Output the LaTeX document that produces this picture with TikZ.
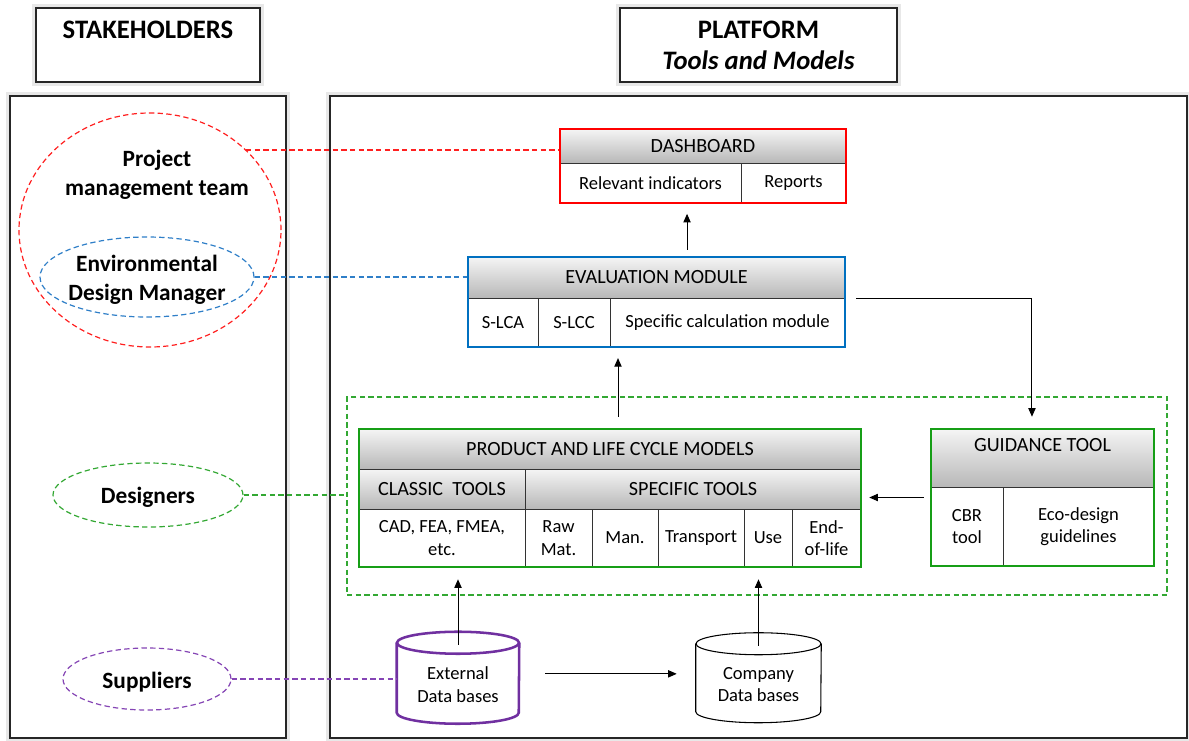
\documentclass[tikz,border=0pt]{standalone}
\usepackage{fontspec}
\setmainfont{Carlito}
\usetikzlibrary{fit,calc,arrows.meta,shapes.geometric}
\definecolor{pmred}{HTML}{FF2020}
\definecolor{frred}{HTML}{FF0000}
\definecolor{edmblue}{HTML}{2F7FC8}
\definecolor{frblue}{HTML}{0070C0}
\definecolor{grpgreen}{HTML}{33A833}
\definecolor{frgreen}{HTML}{169E16}
\definecolor{suppurple}{HTML}{8545B5}
\definecolor{frpurple}{HTML}{7030A0}
\begin{document}
\begin{tikzpicture}[x=0.75pt,y=-0.75pt,
  every node/.style={inner sep=0pt},
  txt/.style={font=\fontsize{13.9}{16.9}\selectfont, align=center},
  htxt/.style={font=\fontsize{15.1}{16.9}\selectfont, align=center},
  t/.style={label={[txt]center:{#1}}},
  th/.style={label={[htxt]center:{#1}}},
  cell/.style={draw=black!80, line width=0.75pt, fill=white},
  head/.style={cell, top color=black!4, bottom color=black!28},
  glow/.style={preaction={draw=black!9, line width=6pt}},
  big/.style={draw=black!85, line width=0.9pt, fill=white, glow},
  titletxt/.style={font=\fontsize{20}{23.25}\selectfont\bfseries, align=center},
  who/.style={font=\fontsize{17.5}{21.75}\selectfont\bfseries, align=center, yshift=-2pt},
  arr/.style={-{Triangle[length=6.5pt,width=5.5pt]}, line width=0.75pt},
  dsh/.style={dash pattern=on 4pt off 2.5pt, line width=0.9pt},
  oval/.style={ellipse, dsh},
]
\useasboundingbox (0,0) rectangle (1189,740);

% title boxes and panels
\node[big, fit={(36,8) (260,82)}, label={[titletxt]center:{STAKEHOLDERS\\\mbox{}}}] (stkh) {};
\node[big, fit={(620,8) (897,82)}, label={[titletxt]center:{PLATFORM\\\textit{Tools and Models}}}] (plth) {};
\node[big, fit={(10,96) (286,738)}] (stk) {};
\node[big, fit={(330,96) (1187,738)}] (plat) {};

% green dashed group
\node[draw=grpgreen, dsh, fit={(347,397) (1167,595)}] (grp) {};

% stakeholders
\node[oval, draw=pmred, minimum width=196.5pt, minimum height=175.5pt] (pm) at (150,230) {};
\node[who] (pmt) at (157,172) {Project\\management team};
\node[oval, draw=edmblue, minimum width=160.5pt, minimum height=60pt,
      label={[who]center:{Environmental\\Design Manager}}] (edm) at (147,277) {};
\node[oval, draw=grpgreen, minimum width=142.5pt, minimum height=48pt,
      label={[who]center:Designers}] (des) at (148,495) {};
\node[oval, draw=suppurple, minimum width=126pt, minimum height=46.5pt,
      label={[who]center:Suppliers}] (sup) at (147,679) {};

% dashboard
\node[head, fit={(560,129) (846,163)}, th=DASHBOARD] (dashh) {};
\node[cell, fit={(560,163) (741,203)}, t=Relevant indicators] (dash1) {};
\node[cell, fit={(741,163) (846,203)}, t=Reports] (dash2) {};
\node[draw=frred, line width=1.6pt, fit={(560,129) (846,203)}] (dashb) {};

% evaluation module
\node[head, fit={(468,257) (845,298)}, th=EVALUATION MODULE] (evalh) {};
\node[cell, fit={(468,298) (538,347)}, t=S-LCA] (eval1) {};
\node[cell, fit={(538,298) (610,347)}, t=S-LCC] (eval2) {};
\node[cell, fit={(610,298) (845,347)}, t=Specific calculation module] (eval3) {};
\node[draw=frblue, line width=1.6pt, fit={(468,257) (845,347)}] (eval) {};

% product and life cycle models
\node[head, fit={(359,429) (861,469)}, th=PRODUCT AND LIFE CYCLE MODELS] (prodh) {};
\node[head, fit={(359,469) (525,509)}, th={CLASSIC\ \ TOOLS}] (prodc) {};
\node[head, fit={(525,469) (861,509)}, th=SPECIFIC TOOLS] (prods) {};
\node[cell, fit={(359,509) (525,567)}, t={CAD, FEA, FMEA,\\etc.}] (p1) {};
\node[cell, fit={(525,509) (592,567)}, t={Raw\\Mat.}] (p2) {};
\node[cell, fit={(592,509) (658,567)}, t=Man.] (p3) {};
\node[cell, fit={(658,509) (744,567)}, t=Transport] (p4) {};
\node[cell, fit={(744,509) (792,567)}, t=Use] (p5) {};
\node[cell, fit={(792,509) (861,567)}, t={End-\\of-life}] (p6) {};
\node[draw=frgreen, line width=1.9pt, fit={(359,429) (861,567)}] (prod) {};

% guidance tool
\node[head, fit={(931,429) (1154,487)}, th={GUIDANCE TOOL\\[3pt]\mbox{}}] (guidh) {};
\node[cell, fit={(931,487) (1003,566)}, t={CBR\\tool}] (g1) {};
\node[cell, fit={(1003,487) (1154,566)}, t={Eco-design\\guidelines}] (g2) {};
\node[draw=frgreen, line width=1.9pt, fit={(931,429) (1154,566)}] (guid) {};

% data bases
\node[fit={(397,643) (519,726)}, t={External\\Data bases}] (ext) {};
\draw[frpurple, line width=1.9pt] (ext.north west) -- ++(0,70)
  arc[start angle=180, end angle=0, x radius=61, y radius=11] -- (ext.north east);
\draw[frpurple, line width=1.9pt] (ext.north) ellipse[x radius=61, y radius=11];
\node[fit={(696,644) (821,725)}, t={Company\\Data bases}] (comp) {};
\draw[black, line width=0.8pt] (comp.north west) -- ++(0,68)
  arc[start angle=180, end angle=0, x radius=62.5, y radius=11] -- (comp.north east);
\draw[black, line width=0.8pt] (comp.north) ellipse[x radius=62.5, y radius=11];

% dashed stakeholder links
\draw[dsh, draw=pmred, line width=1.1pt] ([yshift=-0.4pt]pm.40) -- ([yshift=-0.4pt]pm.40 -| dashb.west);
\draw[dsh, draw=edmblue] (edm.east) -- (edm.east -| eval.west);
\draw[dsh, draw=grpgreen] (des.east) -- (des.east -| grp.west);
\draw[dsh, draw=suppurple] (sup.east) -- (sup.east -| ext.west);

% arrows
\draw[arr, shorten >=7.3pt] ([xshift=22.9pt, yshift=4.5pt]eval.north) -- ([xshift=22.9pt]eval.north |- dashb.south);
\draw[arr, shorten <=8.25pt, shorten >=7.5pt] ([xshift=6pt]prod.north) -- ([xshift=6pt]prod.north |- eval.south);
\draw[arr, shorten <=7.5pt, shorten >=8.25pt] ([yshift=3pt]eval.east) -| ([xshift=-7.9pt]guid.north);
\draw[arr, shorten <=4.5pt, shorten >=5.25pt] (guid.west) -- (guid.west -| prod.east);
\draw[arr, shorten >=8.25pt] ([yshift=-1.5pt]ext.north) -- (ext.north |- prod.south);
\draw[arr, shorten >=8.25pt] ([yshift=-1.5pt]comp.north) -- (comp.north |- prod.south);
\draw[arr, shorten <=19.5pt, shorten >=14.25pt] ([yshift=8pt]ext.east) -- ([yshift=8pt]ext.east -| comp.west);
\end{tikzpicture}
\end{document}
